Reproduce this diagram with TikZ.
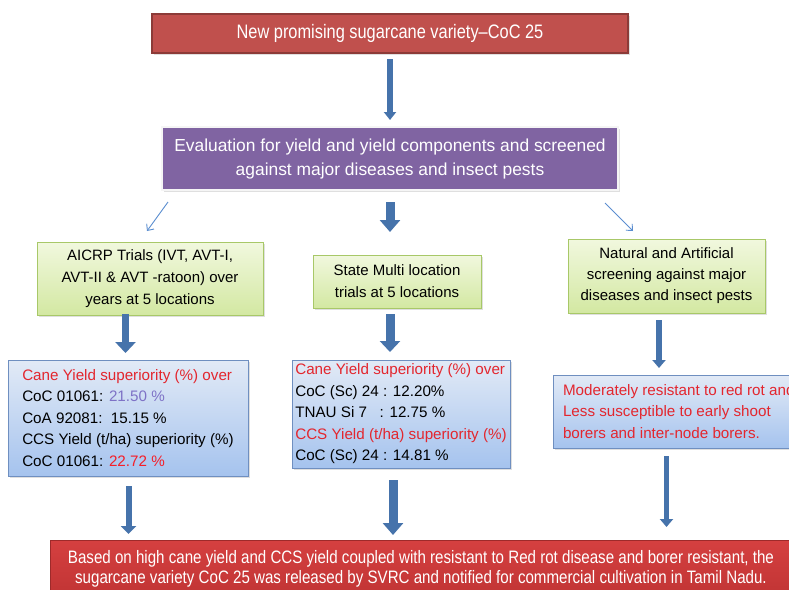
\documentclass[tikz,border=0pt]{standalone}
\usepackage{fontspec}
\setmainfont{Liberation Sans}
\newfontfamily\narrowfont[FakeStretch=0.84,Ligatures=TeX]{Liberation Sans}
\usetikzlibrary{arrows.meta,shadows,calc}
\definecolor{topred}{HTML}{C0504D}
\definecolor{topredline}{HTML}{8C3B38}
\definecolor{evalpurple}{HTML}{8064A2}
\definecolor{greentop}{HTML}{F1F8DE}
\definecolor{greenbot}{HTML}{D3E8A2}
\definecolor{greenline}{HTML}{A8C868}
\definecolor{bluetop}{HTML}{E2EAF6}
\definecolor{bluebot}{HTML}{A5C3EE}
\definecolor{blueline}{HTML}{6F8FC0}
\definecolor{finaltop}{HTML}{D54040}
\definecolor{finalbot}{HTML}{C03434}
\definecolor{finalline}{HTML}{9E2A2A}
\definecolor{arrowblue}{HTML}{4673AB}
\definecolor{thinblue}{HTML}{5B8ED0}
\definecolor{cred}{HTML}{E3262E}
\definecolor{clav}{HTML}{7E72C6}
\definecolor{cbred}{HTML}{F51E28}
\begin{document}
\begin{tikzpicture}[x=1pt,y=-1pt,
  every node/.style={inner sep=0pt,outer sep=0pt},
  shade/.style={drop shadow={opacity=0.25,shadow xshift=1.5pt,shadow yshift=-1.5pt}},
  redbox/.style={rectangle,fill=topred,draw=topredline,line width=1.2pt,text=white,align=center,
    font=\narrowfont\fontsize{19.5}{22}\selectfont,shade},
  purplebox/.style={rectangle,fill=evalpurple,draw=white!92!gray,line width=1.5pt,text=white,align=center,
    font=\fontsize{17.4}{24}\selectfont,shade},
  greenbox/.style={rectangle,top color=greentop,bottom color=greenbot,draw=greenline,line width=0.8pt,
    align=center,font=\fontsize{15}{22}\selectfont,shade},
  bluebox/.style={rectangle,top color=bluetop,bottom color=bluebot,draw=blueline,line width=0.9pt,
    align=left,font=\fontsize{15.2}{21.5}\selectfont,shade},
  finalbox/.style={rectangle,top color=finaltop,bottom color=finalbot,draw=finalline,line width=1pt,
    text=white,align=center,font=\narrowfont\fontsize{18}{20}\selectfont},
  blk/.style n args={3}{draw=arrowblue,line width=#1,-{Triangle[width=#2,length=#3]}},
  thinarrow/.style={draw=thinblue,line width=0.9pt,-{Straight Barb[width=9pt,length=5pt]}}
]
\useasboundingbox (0,0) rectangle (789,589);
\clip (0,0) rectangle (789,589);
\fill[white] (0,0) rectangle (789,589);

\node[redbox,minimum width=476pt,minimum height=39pt] (top) at (390,33.5)
  {New promising sugarcane variety–CoC 25};
\node[purplebox,minimum width=456pt,minimum height=63pt] (eval) at (390,158.5)
  {Evaluation for yield and yield components and screened\\against major diseases and insect pests};

\node[greenbox,minimum width=226pt,minimum height=73pt] (aicrp) at (150,278.5)
  {AICRP Trials (IVT, AVT-I,\\AVT-II \& AVT -ratoon) over\\years at 5 locations};
\node[greenbox,minimum width=168pt,minimum height=53pt] (state) at (397,281.5)
  {State Multi location\\trials at 5 locations};
\node[greenbox,minimum width=197pt,minimum height=74pt,font=\fontsize{15}{21}\selectfont] (natural) at (666.5,276)
  {Natural and Artificial\\screening against major\\diseases and insect pests};

\node[bluebox,minimum width=240pt,minimum height=116pt] (lblue) at (128,418)
  {{\color{cred}Cane Yield superiority (\%) over}\\
   CoC 01061: {\color{clav}21.50 \%}\\
   CoA 92081:\ \ 15.15 \%\\
   CCS Yield (t/ha) superiority (\%)\\
   CoC 01061: {\color{cbred}22.72 \%}};
\node[bluebox,minimum width=218pt,minimum height=108pt] (mblue) at (401,414)
  {{\color{cred}Cane Yield superiority (\%) over}\\
   CoC (Sc) 24 : 12.20\%\\
   TNAU Si 7\ \ \ : 12.75 \%\\
   {\color{cred}CCS Yield (t/ha) superiority (\%)}\\
   CoC (Sc) 24 : 14.81 \%};
\node[bluebox,minimum height=73pt,inner xsep=10pt,anchor=west,text=cred] (rblue) at (553,411.5)
  {Moderately resistant to red rot and\\Less susceptible to early shoot\\borers and inter-node borers.};

\node[finalbox,minimum width=742pt,minimum height=58pt] (final) at (421,569)
  {Based on high cane yield and CCS yield coupled with resistant to Red rot disease and borer resistant, the\\
   sugarcane variety CoC 25 was released by SVRC and notified for commercial cultivation in Tamil Nadu.};

% arrows
\draw[blk={6.5pt}{12pt}{8pt},shorten <=6pt,shorten >=7pt] (top) -- (eval);
\draw[blk={9pt}{20pt}{12pt},shorten <=12pt,shorten >=23pt] (eval.south) -- (eval.south |- state.north);
\draw[thinarrow] ([shift={(-222,12)}]eval.south) -- ([shift={(-3,-11)}]aicrp.north);
\draw[thinarrow] ([shift={(215,13)}]eval.south) -- ([shift={(-33.5,-8)}]natural.north);

\draw[blk={7.5pt}{20pt}{11pt}] ($(aicrp.south -| lblue.north)+(-2.5,-1)$) -- ($(lblue.north)+(-2.5,-7)$);
\draw[blk={9pt}{20pt}{11pt}] ($(state.south -| eval.south)+(0,6)$) -- ($(mblue.north -| eval.south)+(0,-8)$);
\draw[blk={6.5pt}{13pt}{8pt}] ($(natural.south)+(-7.5,7)$) -- ($(natural.south |- rblue.north)+(-7.5,-7)$);

\draw[blk={6pt}{15pt}{8pt}] ($(lblue.south)+(0.5,10)$) -- ($(lblue.south |- final.north)+(0.5,-6)$);
\draw[blk={9pt}{20pt}{12pt}] ($(mblue.south)+(-8,12)$) -- ($(mblue.south |- final.north)+(-8,-5)$);
\draw[blk={5.5pt}{13pt}{8pt}] ($(rblue.south -| natural.south)+(0,8)$) -- ($(final.north -| natural.south)+(0,-13)$);
\end{tikzpicture}
\end{document}
